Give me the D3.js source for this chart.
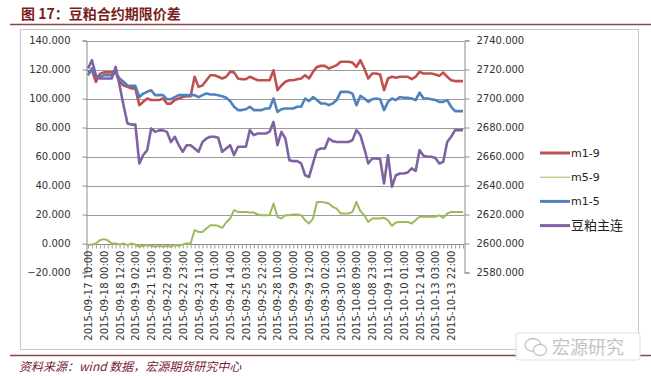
<!DOCTYPE html>
<html>
<head>
<meta charset="utf-8">
<script src="https://cdn.jsdelivr.net/npm/d3@7"></script>
<style>
  body { margin: 0; background: #fff; }
  svg { display: block; font-family: "DejaVu Sans", sans-serif; }
</style>
</head>
<body>
<svg id="chart" width="651" height="376"></svg>
<script>
// category labels, one every 4 points
var tickLabels = [
  "2015-09-17 10:00", "2015-09-18 00:00", "2015-09-18 12:00", "2015-09-19 02:00",
  "2015-09-21 15:00", "2015-09-22 09:00", "2015-09-22 23:00", "2015-09-23 11:00",
  "2015-09-24 01:00", "2015-09-24 14:00", "2015-09-25 03:00", "2015-09-25 22:00",
  "2015-09-28 10:00", "2015-09-29 00:00", "2015-09-29 12:00", "2015-09-30 02:00",
  "2015-09-30 15:00", "2015-10-08 09:00", "2015-10-08 23:00", "2015-10-09 11:00",
  "2015-10-10 01:00", "2015-10-12 14:00", "2015-10-13 03:00", "2015-10-13 22:00"
];
var labelStep = 4;

var leftTicks = [-20, 0, 20, 40, 60, 80, 100, 120, 140];
var rightTicks = [2580, 2600, 2620, 2640, 2660, 2680, 2700, 2720, 2740];

// m1-9 spread (left axis)
var m19 = [
  118.4, 119.5, 111.5, 117, 118, 118, 118, 118, 111.5, 109, 108, 107,
  107, 95.4, 97.7, 100, 99, 99, 99, 100, 96.5, 96.5, 99, 100,
  101, 101.6, 101.6, 115, 108, 109, 112.6, 116, 116, 115, 113.8, 115,
  118.4, 118, 113.8, 113.3, 113.3, 115, 113.8, 112.6, 112.6, 112.6, 112.6, 119.5,
  105.7, 109, 111.5, 112.6, 112.6, 113.3, 113.8, 116, 113.8, 118.4, 121.8, 122.5,
  122.5, 120.7, 121.8, 123, 125.3, 125.3, 125.3, 124.8, 121.8, 126.4, 120.7, 113.8,
  117.2, 117.2, 116.5, 105.7, 113.8, 115, 114.3, 115, 115, 115, 113.3, 115,
  118.4, 117.2, 117.2, 117.2, 116.5, 115.6, 117.9, 115, 112.6, 112, 112, 112
];
// m5-9 spread (left axis)
var m59 = [
  -1.1, -0.7, 0, 2.3, 3, 2.3, 0, 0, -0.7, 0, -1.1, 0,
  -0.7, -2.3, -1.6, -1.1, -1.6, -2.3, -1.6, -2.3, -1.6, -2.3, -1.1, -1.6,
  -0.7, 0, 0, 9.2, 8, 8, 10.3, 12.6, 12.6, 12.2, 10.8, 14.5,
  17.2, 23, 21.8, 21.8, 21.8, 21.4, 21.4, 20, 19.5, 19.5, 19.5, 27.6,
  18.4, 17.2, 19.5, 19.5, 20, 20, 19.5, 16.1, 13.8, 17.2, 28.7, 28.7,
  28.3, 27.6, 25.3, 24.1, 20.7, 20.7, 20.7, 21.8, 28.7, 22.3, 19.5, 14.9,
  17.2, 17.2, 17.2, 17.7, 16.1, 12.2, 14.5, 14.9, 14.9, 14.9, 13.8, 16.1,
  18.4, 18.4, 18.4, 18.4, 18.4, 19.5, 17.7, 20.7, 21.8, 21.8, 21.8, 21.8
];
// m1-5 spread (left axis)
var m15 = [
  116, 120.7, 115, 115, 116, 116, 116, 118, 113.8, 111.5, 109, 108.7,
  108.7, 101, 103.4, 104.6, 105.7, 102.3, 102.3, 102.3, 99.5, 99.5, 101, 102.3,
  102.3, 102.3, 102.3, 102.3, 101, 102.3, 103.4, 102.8, 102.8, 102.3, 101.6, 100.5,
  98.2, 94.3, 92, 92, 92.6, 94.3, 92, 92, 92, 93.1, 93.1, 100,
  90.8, 92.6, 93.1, 93.1, 93.1, 94.3, 94.3, 100, 98.2, 101, 98.9, 96.6,
  96.6, 95.4, 96.6, 98.9, 104.6, 104.6, 104.6, 103.4, 95.4, 101.8, 100, 97.7,
  99.5, 100, 99.5, 92, 97.7, 100, 98.9, 101, 100.5, 100.5, 100, 98.9,
  104.1, 100, 100, 99.5, 98.9, 97.7, 97.7, 98.9, 94.3, 91.3, 91.3, 91.3
];
// soybean meal main continuous (right axis)
var zhulian = [
  2720.7, 2726.4, 2716, 2713.8, 2713.8, 2713.8, 2713.8, 2721.8, 2709, 2695.4, 2682.8, 2682,
  2682, 2655.2, 2661, 2664.4, 2679.3, 2677, 2678, 2678, 2677, 2670, 2673.6, 2667.8,
  2663.2, 2667.8, 2667.8, 2665.5, 2663.2, 2670, 2672.4, 2673.6, 2673.6, 2672.9, 2663.2, 2665.5,
  2667.8, 2661, 2666.7, 2666.7, 2666.7, 2678.2, 2674.7, 2675.9, 2675.9, 2675.9, 2677, 2683.9,
  2667.8, 2677, 2672.4, 2657.5, 2656.8, 2656.8, 2655.2, 2647.1, 2645.9, 2655.2, 2664.4, 2665.5,
  2665.5, 2672.4, 2670.6, 2670, 2670, 2670, 2670, 2671.3, 2678.2, 2674.7, 2665.5, 2655.2,
  2658.6, 2658.6, 2658.2, 2641.4, 2660.9, 2639.1, 2647.1, 2648.3, 2648.3, 2649, 2651.8, 2650,
  2664.4, 2660.5, 2659.8, 2659.8, 2659, 2655.2, 2656.3, 2670, 2673.6, 2678.2, 2678.2, 2678.2
];

var seriesNames = ["m1-9", "m5-9", "m1-5", "豆粕主连"];
var seriesColors = ["#c0504d", "#9bbb59", "#4f81bd", "#7e62a1"];

var svg = d3.select("#chart");

var plotLeft = 86, plotRight = 464;
var x = d3.scaleLinear().domain([0, m19.length - 1]).range([88, 463]);
var yL = d3.scaleLinear().domain([-20, 140]).range([272.5, 40.5]);
var yR = d3.scaleLinear().domain([2580, 2740]).range([272.5, 40.5]);

// title + rules
svg.append("text")
  .attr("x", 21).attr("y", 19)
  .attr("fill", "#7b1c1c")
  .style("font-family", "'Noto Sans CJK SC', sans-serif")
  .style("font-size", "14px").style("font-weight", "bold")
  .text("图 17：豆粕合约期限价差");
svg.append("line").attr("x1", 10).attr("x2", 651).attr("y1", 24.5).attr("y2", 24.5)
  .attr("stroke", "#8a4545").attr("stroke-width", 1.5);

// chart frame
svg.append("rect").attr("x", 20.5).attr("y", 29.5).attr("width", 618).attr("height", 320)
  .attr("fill", "#fff").attr("stroke", "#c8c8c8");

// gridlines
svg.append("g").selectAll("line")
  .data(leftTicks.filter(function(d) { return d > -20; }))
  .join("line")
  .attr("x1", plotLeft).attr("x2", plotRight)
  .attr("y1", function(d) { return Math.round(yL(d)) + 0.5; })
  .attr("y2", function(d) { return Math.round(yL(d)) + 0.5; })
  .attr("stroke", "#9a9a9a");

// left axis
var gL = svg.append("g").attr("transform", "translate(" + (plotLeft + 0.5) + ",0)")
  .call(d3.axisLeft(yL).tickValues(leftTicks).tickSize(4).tickPadding(12).tickFormat(d3.format(".3f")));
// right axis
var gR = svg.append("g").attr("transform", "translate(" + (plotRight + 0.5) + ",0)")
  .call(d3.axisRight(yR).tickValues(rightTicks).tickSize(5).tickPadding(7).tickFormat(d3.format(".3f")));

[gL, gR].forEach(function(g) {
  g.select(".domain").attr("stroke", "#8c8c8c");
  g.selectAll(".tick line").attr("stroke", "#8c8c8c");
  g.selectAll("text").attr("fill", "#333").style("font-size", "10px")
    .style("font-family", "'DejaVu Sans', sans-serif");
});

// category axis at zero, hash marks for every point
var y0 = Math.round(yL(0)) + 0.5;
var gX = svg.append("g").attr("transform", "translate(0," + y0 + ")")
  .call(d3.axisBottom(x).tickValues(d3.range(m19.length)).tickSize(4).tickFormat(""));
gX.select(".domain").attr("d", "M" + plotLeft + ",0H" + plotRight).attr("stroke", "#8c8c8c");
gX.selectAll(".tick line").attr("stroke", "#a0a0a0");

var gXL = svg.append("g").attr("transform", "translate(0," + y0 + ")")
  .call(d3.axisBottom(x)
    .tickValues(d3.range(0, tickLabels.length * labelStep, labelStep))
    .tickSize(0)
    .tickFormat(function(d) { return tickLabels[d / labelStep]; }));
gXL.select(".domain").remove();
gXL.selectAll("text")
  .attr("transform", "rotate(-90)")
  .attr("text-anchor", "end")
  .attr("x", -6).attr("y", 0).attr("dy", "0.35em")
  .attr("fill", "#333")
  .style("font-size", "10px")
  .style("font-family", "'DejaVu Sans', sans-serif");

// series
var lineL = d3.line().x(function(d, i) { return x(i); }).y(function(d) { return yL(d); });
var lineR = d3.line().x(function(d, i) { return x(i); }).y(function(d) { return yR(d); });

var plotData = [
  { values: m19, line: lineL, width: 2.6 },
  { values: m59, line: lineL, width: 2 },
  { values: m15, line: lineL, width: 2.6 },
  { values: zhulian, line: lineR, width: 2.6 }
];
plotData.forEach(function(s, k) {
  svg.append("path")
    .attr("d", s.line(s.values))
    .attr("fill", "none")
    .attr("stroke", seriesColors[k])
    .attr("stroke-width", s.width)
    .attr("stroke-linejoin", "round");
});

// legend
var legend = svg.append("g").selectAll("g").data(seriesNames).join("g")
  .attr("transform", function(d, i) { return "translate(540," + (153 + i * 24.2) + ")"; });
legend.append("line").attr("x1", 0).attr("x2", 30)
  .attr("stroke", function(d, i) { return seriesColors[i]; })
  .attr("stroke-width", function(d, i) { return i === 1 ? 1 : 3; });
legend.append("text").attr("x", 31).attr("dy", "0.36em")
  .attr("fill", "#222")
  .style("font-size", function(d, i) { return i === 3 ? "13px" : "11px"; })
  .style("font-family", "'DejaVu Sans', 'Noto Sans CJK SC', sans-serif")
  .text(function(d) { return d; });

// footer
svg.append("line").attr("x1", 10).attr("x2", 651).attr("y1", 355.5).attr("y2", 355.5)
  .attr("stroke", "#8a4545").attr("stroke-width", 1.5);
svg.append("text")
  .attr("x", 19).attr("y", 371)
  .attr("fill", "#7a1838")
  .style("font-family", "'Noto Sans CJK SC', sans-serif")
  .style("font-size", "12px").style("font-style", "italic")
  .text("资料来源：wind 数据，宏源期货研究中心");

// watermark
var wm = svg.append("g").attr("transform", "translate(516,333)");
wm.append("rect").attr("width", 124).attr("height", 27).attr("rx", 3)
  .attr("fill", "#fff").attr("stroke", "#dedede");
wm.append("ellipse").attr("cx", 17).attr("cy", 12).attr("rx", 8).attr("ry", 6.5)
  .attr("fill", "none").attr("stroke", "#c4c4c4").attr("stroke-width", 1.3);
wm.append("ellipse").attr("cx", 24).attr("cy", 17).attr("rx", 6.5).attr("ry", 5.5)
  .attr("fill", "#fff").attr("stroke", "#c4c4c4").attr("stroke-width", 1.3);
wm.append("text").attr("x", 36).attr("y", 21)
  .attr("fill", "#c4c4c4")
  .style("font-family", "'Noto Sans CJK SC', sans-serif")
  .style("font-size", "18px")
  .text("宏源研究");
</script>
</body>
</html>
